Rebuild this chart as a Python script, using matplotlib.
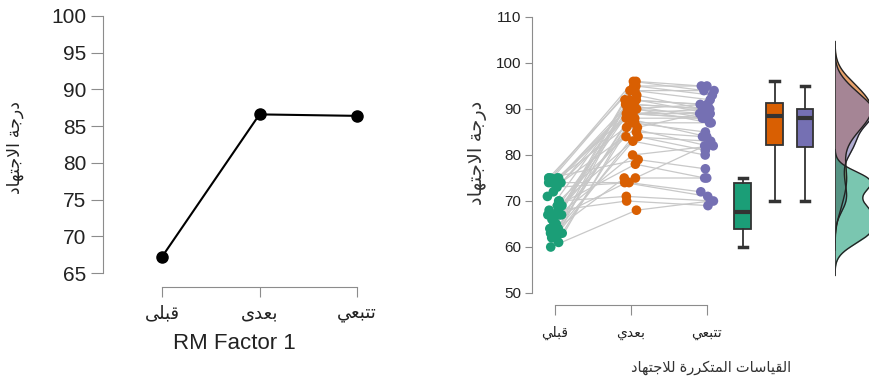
import numpy as np
import matplotlib
matplotlib.use("Agg")
import matplotlib.pyplot as plt

plt.rcParams['font.family'] = ['Liberation Sans', 'DejaVu Sans']

# Arabic text as presentation forms (logical order), reversed for LTR drawing
def rtl(s):
    return s[::-1]

LBL_PRE_L = '\uFED7\uFE92\uFEE0\uFEF0'          # قبلى
LBL_POST_L = '\uFE91\uFECC\uFEAA\uFEEF'         # بعدى
LBL_FOLLOW = '\uFE97\uFE98\uFE92\uFECC\uFEF2'   # تتبعي
LBL_PRE = '\uFED7\uFE92\uFEE0\uFEF2'            # قبلي
LBL_POST = '\uFE91\uFECC\uFEAA\uFEF1'           # بعدي
YLABEL = '\uFEA9\uFEAD\uFE9F\uFE94 \uFE8D\uFEFB\uFE9F\uFE98\uFEEC\uFE8E\uFEA9'
XLABEL = ('\uFE8D\uFEDF\uFED8\uFEF4\uFE8E\uFEB3\uFE8E\uFE95 '
          '\uFE8D\uFEDF\uFEE4\uFE98\uFEDC\uFEAE\uFEAD\uFE93 '
          '\uFEDF\uFEFC\uFE9F\uFE98\uFEEC\uFE8E\uFEA9')

# left panel: means
left_labels = [LBL_PRE_L, LBL_POST_L, LBL_FOLLOW]
left_means = [67.2, 86.6, 86.4]

# right panel: per-subject scores
right_labels = [LBL_PRE, LBL_POST, LBL_FOLLOW]
pre = [74, 75, 67, 62, 75, 65, 74, 64, 75, 68, 72, 63, 66, 74, 61, 69, 62, 75, 64, 67,
       71, 63, 66, 74, 74, 65, 62, 70, 67, 64, 66, 75, 69, 67, 63, 73, 74, 70, 68, 60]
post = [96, 96, 95, 95, 94, 94, 93, 92, 92, 92, 91, 91, 91, 90, 90, 90, 89, 89, 89, 89,
        88, 88, 87, 87, 86, 86, 85, 84, 84, 83, 80, 79, 78, 75, 75, 74, 74, 71, 70, 68]
follow = [95, 94, 95, 93, 94, 92, 90, 91, 89, 91, 90, 88, 90, 89, 87, 91, 88, 88, 90, 89,
          84, 88, 87, 85, 89, 82, 84, 83, 81, 80, 82, 77, 75, 82, 75, 72, 71, 70, 69, 70]
colors = ['#1b9e77', '#d95f02', '#7570b3']

W, H = 869, 385
fig = plt.figure(figsize=(W / 100, H / 100), dpi=100)

def box(l, t, r, b):
    return [l / W, 1 - b / H, (r - l) / W, (b - t) / H]

axis_gray = '#8c8c8c'

# ---------- left panel ----------
ax1 = fig.add_axes(box(103, 10, 365, 287))
xs = [1, 2, 3]
ax1.plot(xs, left_means, color='black', lw=1.5, marker='o', markersize=8, zorder=3)
ax1.set_xlim(1 - 59 / 97.5, 3 + 8 / 97.5)
ax1.set_ylim(65 - 14 / 7.343, 100 + 6 / 7.343)
ax1.set_yticks(range(65, 101, 5))
ax1.set_xticks(xs)
ax1.set_xticklabels([rtl(s) for s in left_labels], fontsize=13)
for s in ['top', 'right']:
    ax1.spines[s].set_visible(False)
ax1.spines['left'].set_bounds(65, 100)
ax1.spines['bottom'].set_bounds(1, 3)
for s in ['left', 'bottom']:
    ax1.spines[s].set_color(axis_gray)
ax1.tick_params(axis='y', labelsize=15, length=9, color=axis_gray, labelcolor='#222222', pad=3)
ax1.tick_params(axis='x', length=7, color=axis_gray, labelcolor='#222222', pad=6)
ax1.set_xlabel('RM Factor 1', fontsize=16, color='#222222', labelpad=8)
fig.text(15 / W, 1 - 148 / H, rtl(YLABEL), rotation=90, fontsize=12.5,
         ha='center', va='center', color='#222222')

# ---------- right panel ----------
ax2 = fig.add_axes(box(532, 10, 830, 305))
rng = np.random.default_rng(3)
groups = [pre, post, follow]
jit = [rng.uniform(-0.1, 0.1, len(g)) for g in groups]
px = [i + 1 + jit[i] for i in range(3)]
for j in range(len(pre)):
    ax2.plot([px[0][j], px[1][j], px[2][j]], [pre[j], post[j], follow[j]],
             color='#c8c8c8', lw=0.9, zorder=1)
for i, g in enumerate(groups):
    ax2.scatter(px[i], g, s=48, color=colors[i], edgecolors='none', zorder=2)

bp = ax2.boxplot(groups, positions=[3.47, 3.89, 4.29], widths=0.22,
                 patch_artist=True, showfliers=False, manage_ticks=False)
for patch, c in zip(bp['boxes'], colors):
    patch.set_facecolor(c)
    patch.set_edgecolor('#333333')
    patch.set_linewidth(1.3)
for el in bp['whiskers'] + bp['caps']:
    el.set_color('#333333')
    el.set_linewidth(1.3)
for el in bp['caps']:
    el.set_linewidth(2.5)
for el in bp['medians']:
    el.set_color('#333333')
    el.set_linewidth(3)

ax2.set_xlim(1 - 23 / 76, 1 + 275 / 76)
ylo, yhi = 50 - 12 / 4.6, 110 + 7 / 4.6
ax2.set_ylim(ylo, yhi)
ax2.set_yticks(range(50, 111, 10))
ax2.set_xticks([1, 2, 3])
ax2.set_xticklabels([rtl(s) for s in right_labels], fontsize=10)
for s in ['top', 'right']:
    ax2.spines[s].set_visible(False)
ax2.spines['left'].set_bounds(50, 110)
ax2.spines['bottom'].set_bounds(1, 3)
for s in ['left', 'bottom']:
    ax2.spines[s].set_color(axis_gray)
ax2.tick_params(axis='y', labelsize=11, length=5, color=axis_gray, labelcolor='#222222', pad=3)
ax2.tick_params(axis='x', length=7, color=axis_gray, labelcolor='#222222', pad=8)
fig.text(478 / W, 1 - 153 / H, rtl(YLABEL), rotation=90, fontsize=14,
         ha='center', va='center', color='#333333')
fig.text(711 / W, 1 - 368 / H, rtl(XLABEL), fontsize=10.5,
         ha='center', va='center', color='#333333')

# ---------- half-violin densities (R-style nrd0 bandwidth, cut = 3 bw) ----------
ax3 = fig.add_axes(box(835, 10, 900, 305))
ax3.set_ylim(ylo, yhi)
curves = []
for g in groups:
    v = np.array(g, float)
    iqr = np.subtract(*np.percentile(v, [75, 25]))
    bw = 0.9 * min(v.std(ddof=1), iqr / 1.34) * len(v) ** -0.2
    grid = np.linspace(v.min() - 3 * bw, v.max() + 3 * bw, 300)
    d = np.exp(-0.5 * ((grid[:, None] - v[None, :]) / bw) ** 2).sum(1)
    curves.append((grid, d / (len(v) * bw * np.sqrt(2 * np.pi))))
for i in [1, 2, 0]:
    grid, d = curves[i]
    ax3.fill_betweenx(grid, 0, d, color=colors[i], alpha=0.58, lw=0)
    ax3.plot(d, grid, color='#222222', lw=1)
ymin = min(c[0][0] for c in curves)
ymax = max(c[0][-1] for c in curves)
ax3.plot([0, 0], [ymin, ymax], color='#333333', lw=1.2)
ax3.set_xlim(0, max(c[1].max() for c in curves) * 65 / 40)
ax3.axis('off')

fig.savefig('out.png', dpi=100)
